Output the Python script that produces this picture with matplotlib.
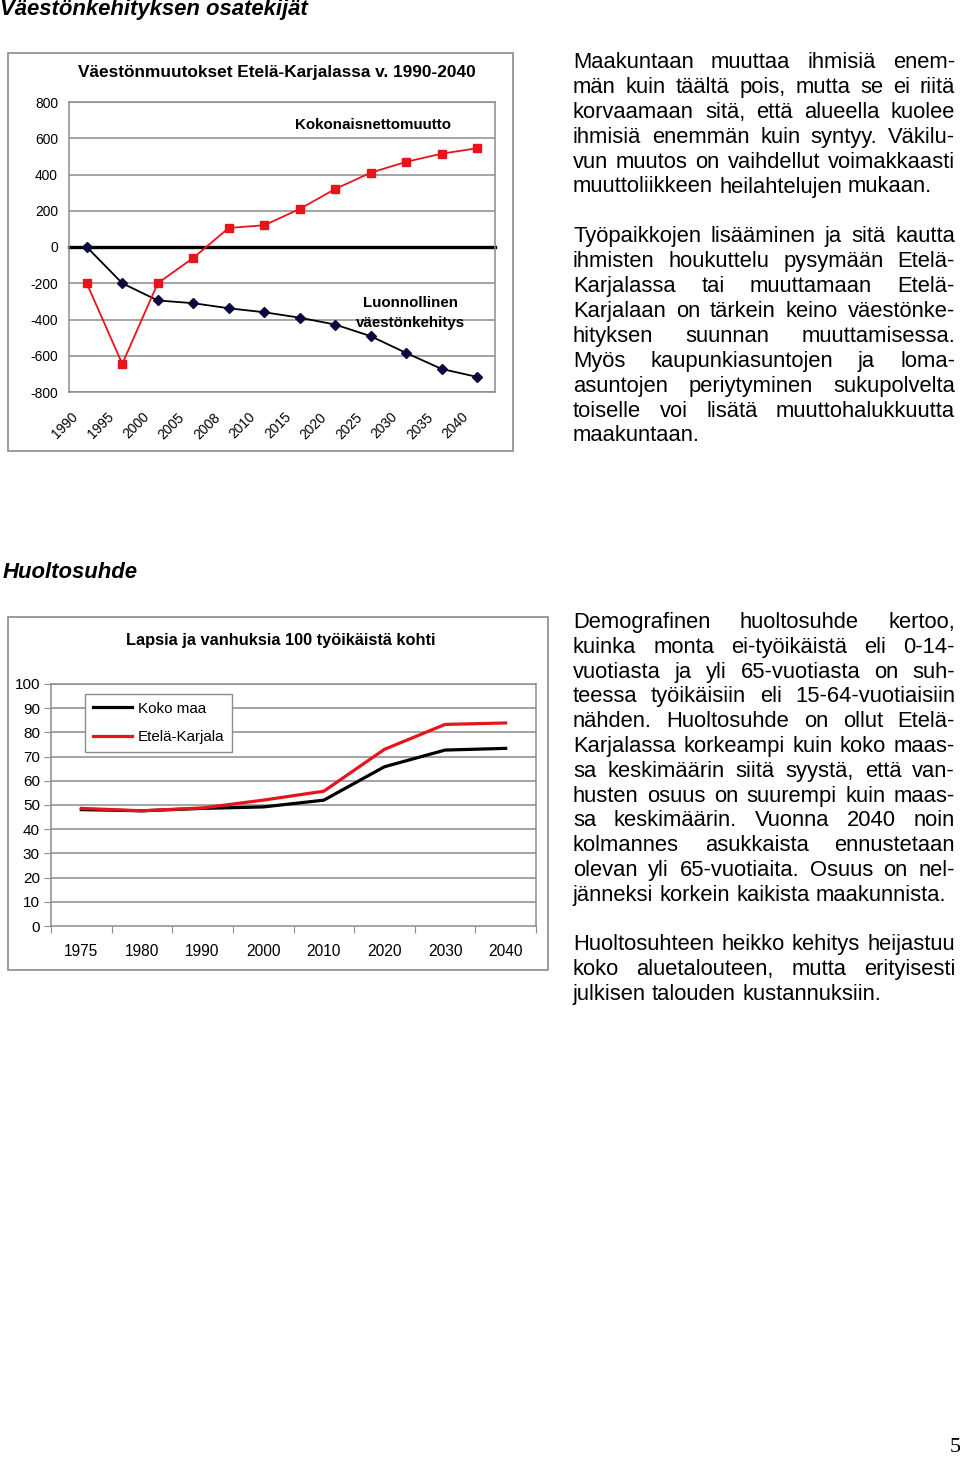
import matplotlib
matplotlib.use('Agg')
import matplotlib.pyplot as plt
from matplotlib.patches import Rectangle

plt.rcParams['font.family'] = ['Liberation Sans', 'DejaVu Sans']

W, H = 960, 1457

# top chart data
years_top = ['1990', '1995', '2000', '2005', '2008', '2010', '2015', '2020', '2025', '2030', '2035', '2040']
netto = [-200, -645, -200, -60, 105, 120, 210, 320, 410, 470, 515, 545]
luonnollinen = [0, -200, -295, -310, -338, -360, -390, -428, -492, -585, -673, -717]
yticks_top = [-800, -600, -400, -200, 0, 200, 400, 600, 800]

# bottom chart data
years_bot = ['1975', '1980', '1990', '2000', '2010', '2020', '2030', '2040']
koko_maa = [48.1, 47.6, 48.6, 49.2, 52.0, 65.8, 72.7, 73.4]
etela_karjala = [48.6, 47.6, 48.8, 52.0, 55.7, 73.0, 83.3, 83.9]
yticks_bot = [0, 10, 20, 30, 40, 50, 60, 70, 80, 90, 100]

para1 = ["Maakuntaan muuttaa ihmisiä enem-",
         "män kuin täältä pois, mutta se ei riitä",
         "korvaamaan sitä, että alueella kuolee",
         "ihmisiä enemmän kuin syntyy. Väkilu-",
         "vun muutos on vaihdellut voimakkaasti",
         "muuttoliikkeen heilahtelujen mukaan."]
para2 = ["Työpaikkojen lisääminen ja sitä kautta",
         "ihmisten houkuttelu pysymään Etelä-",
         "Karjalassa tai muuttamaan Etelä-",
         "Karjalaan on tärkein keino väestönke-",
         "hityksen suunnan muuttamisessa.",
         "Myös kaupunkiasuntojen ja loma-",
         "asuntojen periytyminen sukupolvelta",
         "toiselle voi lisätä muuttohalukkuutta",
         "maakuntaan."]
para3 = ["Demografinen huoltosuhde kertoo,",
         "kuinka monta ei-työikäistä eli 0-14-",
         "vuotiasta ja yli 65-vuotiasta on suh-",
         "teessa työikäisiin eli 15-64-vuotiaisiin",
         "nähden. Huoltosuhde on ollut Etelä-",
         "Karjalassa korkeampi kuin koko maas-",
         "sa keskimäärin siitä syystä, että van-",
         "husten osuus on suurempi kuin maas-",
         "sa keskimäärin. Vuonna 2040 noin",
         "kolmannes asukkaista ennustetaan",
         "olevan yli 65-vuotiaita. Osuus on nel-",
         "jänneksi korkein kaikista maakunnista."]
para4 = ["Huoltosuhteen heikko kehitys heijastuu",
         "koko aluetalouteen, mutta erityisesti",
         "julkisen talouden kustannuksiin."]

RED = '#e8141b'
GRID = '#8c8c8c'

fig = plt.figure(figsize=(W / 100, H / 100), dpi=100)
renderer = fig.canvas.get_renderer()


def fx(x):
    return x / W


def fy(y):
    return 1 - y / H


def frame(x0, y0, x1, y1):
    fig.patches.append(Rectangle((fx(x0), fy(y1)), fx(x1) - fx(x0), fy(y0) - fy(y1),
                                 transform=fig.transFigure, fill=False,
                                 edgecolor='#8a8a8a', lw=1.2))


def paragraph(lines, base, x0=573, x1=955, step=24.9, size=15.8):
    space = 0.278 * size * 100 / 72
    for k, line in enumerate(lines):
        words = line.split()
        objs = [fig.text(0, fy(base + k * step), w, fontsize=size, va='baseline') for w in words]
        widths = [o.get_window_extent(renderer).width for o in objs]
        if k == len(lines) - 1 or len(words) == 1:
            gap = space
        else:
            gap = (x1 - x0 - sum(widths)) / (len(words) - 1)
        x = x0
        for o, w in zip(objs, widths):
            o.set_x(fx(x))
            x += w + gap


# headings
fig.text(fx(0), fy(10), "Väestönkehityksen osatekijät", fontsize=15.9, fontweight='bold',
         fontstyle='italic', va='center')
fig.text(fx(3), fy(572), "Huoltosuhde", fontsize=15.9, fontweight='bold',
         fontstyle='italic', va='center')
fig.text(fx(950), fy(1447), "5", fontsize=16, family='Liberation Serif', va='center')

# ---- top chart ----
frame(8, 53, 513, 451)
ax1 = fig.add_axes([fx(69), fy(392), fx(495) - fx(69), fy(102) - fy(392)])
xs = range(len(years_top))
ax1.set_xlim(-0.5, len(years_top) - 0.5)
ax1.set_ylim(-800, 800)
for v in yticks_top:
    if v != 0:
        ax1.axhline(v, color=GRID, lw=1.1, zorder=1)
ax1.axhline(0, color='black', lw=2.4, zorder=2, clip_on=False)
ax1.plot(xs, netto, color=RED, lw=1.3, marker='s', ms=5.8, mfc=RED, mec=RED, zorder=4)
ax1.plot(xs, luonnollinen, color='black', lw=1.3, marker='D', ms=5, mfc='#0a0a3c',
         mec='#0a0a3c', zorder=3)
ax1.set_yticks(yticks_top)
ax1.set_yticklabels([str(v) for v in yticks_top], fontsize=9.9)
ax1.tick_params(axis='y', length=0, pad=8)
ax1.set_xticks([])
for s in ax1.spines.values():
    s.set_color(GRID)
    s.set_linewidth(1.1)
for i, lab in enumerate(years_top):
    ax1.annotate(lab, xy=(i, -800), xycoords='data', xytext=(-6, -18),
                 textcoords='offset pixels', rotation=45, ha='right', va='top',
                 fontsize=9.9, annotation_clip=False)
fig.text(fx(277), fy(72), "Väestönmuutokset Etelä-Karjalassa v. 1990-2040", fontsize=12.4,
         fontweight='bold', ha='center', va='center')
fig.text(fx(373), fy(125), "Kokonaisnettomuutto", fontsize=10.9, fontweight='bold',
         ha='center', va='center')
fig.text(fx(411), fy(303), "Luonnollinen", fontsize=10.9, fontweight='bold',
         ha='center', va='center')
fig.text(fx(410), fy(323), "väestönkehitys", fontsize=10.9, fontweight='bold',
         ha='center', va='center')

# ---- bottom chart ----
frame(8, 617, 548, 970)
ax2 = fig.add_axes([fx(51), fy(926), fx(536) - fx(51), fy(684) - fy(926)])
xb = [i + 0.5 for i in range(len(years_bot))]
ax2.set_xlim(0, len(years_bot))
ax2.set_ylim(0, 100)
for v in yticks_bot[1:]:
    ax2.axhline(v, color=GRID, lw=1.1, zorder=1)
ax2.plot(xb, koko_maa, color='black', lw=2.3, zorder=3, label='Koko maa')
ax2.plot(xb, etela_karjala, color=RED, lw=2.3, zorder=4, label='Etelä-Karjala')
ax2.set_yticks(yticks_bot)
ax2.set_yticklabels([str(v) for v in yticks_bot], fontsize=11)
ax2.set_xticks(range(len(years_bot) + 1))
ax2.set_xticklabels([])
ax2.set_xticks(xb, minor=True)
ax2.set_xticklabels(years_bot, minor=True, fontsize=11.2)
ax2.tick_params(axis='both', which='major', length=5, color=GRID, direction='out')
ax2.tick_params(axis='x', which='minor', length=0, pad=13)
ax2.tick_params(axis='y', pad=3)
for s in ax2.spines.values():
    s.set_color(GRID)
    s.set_linewidth(1.1)
leg = ax2.legend(loc='upper left', bbox_to_anchor=(fx(85), fy(694)), bbox_transform=fig.transFigure,
                 borderaxespad=0, fontsize=10.9, fancybox=False, framealpha=1, edgecolor=GRID,
                 handlelength=2.6, handletextpad=0.4, labelspacing=0.95, borderpad=0.5)
leg.get_frame().set_linewidth(1.0)
fig.text(fx(281), fy(640), "Lapsia ja vanhuksia 100 työikäistä kohti", fontsize=11.8,
         fontweight='bold', ha='center', va='center')

# ---- text ----
paragraph(para1, 68)
paragraph(para2, 68 + 7 * 24.9)
paragraph(para3, 628, step=24.8)
paragraph(para4, 628 + 13 * 24.8, step=24.8)

fig.savefig('out.png', dpi=100)
